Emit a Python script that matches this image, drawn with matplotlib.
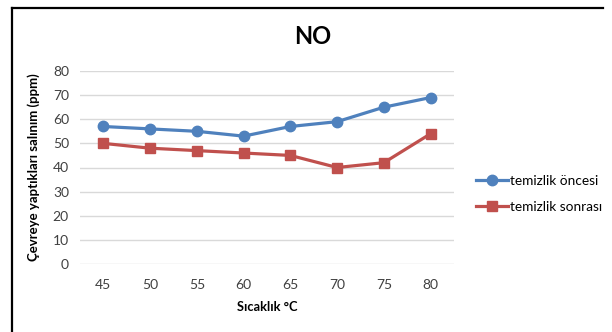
import matplotlib
matplotlib.use("Agg")
import matplotlib.pyplot as plt
from matplotlib.lines import Line2D

plt.rcParams['font.family'] = ['Lato', 'DejaVu Sans']

# NO emissions before / after cleaning
temps = ['45', '50', '55', '60', '65', '70', '75', '80']
once = [57, 56, 55, 53, 57, 59, 65, 69]
sonra = [50, 48, 47, 46, 45, 40, 42, 54]

fig = plt.figure(figsize=(6.12, 3.32), dpi=100)
ax = fig.add_axes([80 / 612, 1 - 264 / 332, 374 / 612, 193 / 332])

x = range(len(temps))
ax.plot(x, once, color='#4F81BD', lw=2.3, marker='o', ms=7.5, label='temizlik öncesi')
ax.plot(x, sonra, color='#C0504D', lw=2.3, marker='s', ms=6.5, label='temizlik sonrası')

ax.set_xlim(-0.5, len(temps) - 0.5)
ax.set_ylim(0, 80)
ax.set_yticks(range(0, 81, 10))
ax.set_xticks(list(x))
ax.set_xticklabels(temps)
ax.grid(axis='y', color='#D9D9D9', lw=1)
ax.set_axisbelow(True)
for s in ax.spines.values():
    s.set_visible(False)
ax.tick_params(length=0, labelsize=10, colors='#404040', pad=8)
ax.tick_params(axis='x', pad=11)

ax.set_xlabel('Sıcaklık °C', fontsize=9.3, fontweight='bold', labelpad=7)
ax.set_ylabel('Çevreye yaptıkları salınım (ppm)', fontsize=9.5, fontweight='bold', labelpad=9)
fig.text(313 / 612, 1 - 37 / 332, 'NO', ha='center', va='center', fontsize=17, fontweight='bold')

fig.legend(loc='center left', bbox_to_anchor=(464 / 612, 1 - 194 / 332), frameon=False,
           fontsize=9.8, handlelength=2.3, handletextpad=0.15, labelspacing=1.0)

# chart frame (top and left edges)
fig.add_artist(Line2D([11.5 / 612, 603 / 612], [1 - 7.5 / 332, 1 - 7.5 / 332],
                      color='black', lw=1.6, transform=fig.transFigure))
fig.add_artist(Line2D([11.5 / 612, 11.5 / 612], [1 - 7.5 / 332, 0],
                      color='black', lw=1.6, transform=fig.transFigure))

fig.savefig('out.png', dpi=100)
